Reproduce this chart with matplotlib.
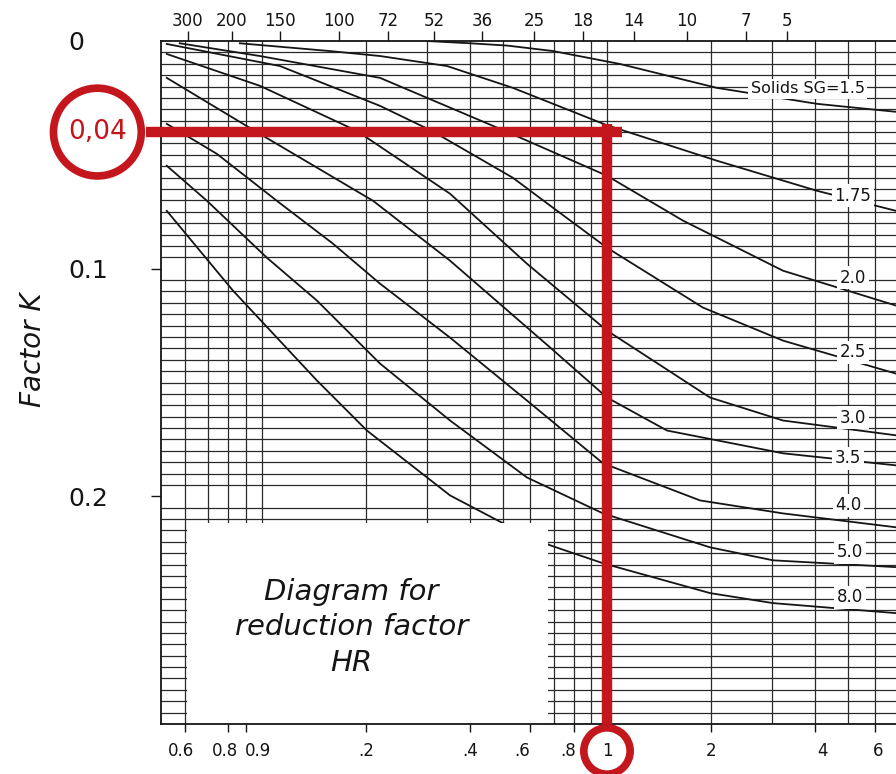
import numpy as np
import matplotlib
matplotlib.use('Agg')
import matplotlib.pyplot as plt
from matplotlib.patches import Rectangle
from matplotlib.ticker import LogLocator, MultipleLocator, NullFormatter, NullLocator

# values: particle size d (mm) -> factor K
sg_names = ['1.5', '1.75', '2.0', '2.5', '3.0', '3.5', '4.0', '5.0', '8.0']

d_15 = [0.30, 0.401, 0.513, 0.697, 1.091, 2.084, 4.062, 6.88]
k_15 = [0.0, 0.001, 0.002, 0.0044, 0.0101, 0.0206, 0.0276, 0.0311]

d_175 = [0.0863, 0.157, 0.220, 0.344, 0.534, 1.0, 2.084, 4.062, 6.88]
k_175 = [0.001, 0.0044, 0.0066, 0.011, 0.0206, 0.037, 0.0526, 0.0658, 0.0746]

d_20 = [0.0578, 0.0987, 0.220, 0.506, 1.0, 1.661, 3.237, 6.88]
k_20 = [0.001, 0.0066, 0.0162, 0.0395, 0.0592, 0.0789, 0.1009, 0.1162]

d_25 = [0.053, 0.1128, 0.220, 0.311, 0.534, 0.697, 1.0, 1.898, 3.237, 6.88]
k_25 = [0.0013, 0.011, 0.0285, 0.0395, 0.0601, 0.0732, 0.0908, 0.1171, 0.1316, 0.1461]

d_30 = [0.053, 0.0987, 0.1885, 0.351, 0.586, 1.0, 1.989, 3.237, 6.88]
k_30 = [0.0057, 0.0197, 0.0395, 0.0671, 0.0978, 0.1272, 0.1566, 0.1667, 0.1732]

d_35 = [0.053, 0.0954, 0.210, 0.351, 0.684, 1.0, 1.493, 3.237, 6.88]
k_35 = [0.0162, 0.0395, 0.0702, 0.0965, 0.1346, 0.1566, 0.1711, 0.1811, 0.1864]

d_40 = [0.053, 0.0741, 0.1105, 0.1606, 0.220, 0.351, 0.586, 0.974, 1.861, 3.237, 6.88]
k_40 = [0.0364, 0.0496, 0.0702, 0.089, 0.1066, 0.1303, 0.1579, 0.1855, 0.2018, 0.2075, 0.2136]

d_50 = [0.053, 0.0693, 0.1034, 0.1443, 0.220, 0.351, 0.586, 0.974, 1.989, 3.028, 6.88]
k_50 = [0.0548, 0.0702, 0.0952, 0.114, 0.1417, 0.1667, 0.1917, 0.2075, 0.2224, 0.2281, 0.2311]

d_80 = [0.053, 0.0824, 0.1443, 0.2015, 0.351, 0.4995, 0.684, 0.974, 1.989, 3.028, 6.88]
k_80 = [0.0746, 0.1096, 0.1491, 0.1711, 0.1996, 0.2118, 0.2215, 0.2294, 0.2425, 0.2469, 0.2513]

curves_d = [d_15, d_175, d_20, d_25, d_30, d_35, d_40, d_50, d_80]
curves_k = [k_15, k_175, k_20, k_25, k_30, k_35, k_40, k_50, k_80]

# curve labels (text, d, K)
label_text = ['Solids SG=1.5', '1.75', '2.0', '2.5', '3.0', '3.5', '4.0', '5.0', '8.0']
label_d = [3.82, 5.16, 5.16, 5.16, 5.16, 5.0, 5.0, 5.06, 5.06]
label_k = [0.021, 0.068, 0.104, 0.1368, 0.1654, 0.1833, 0.204, 0.2246, 0.2443]

# axes ticks; bottom labels sit a little off their ticks in the scan
size_ticks = [0.06, 0.08, 0.09, 0.2, 0.4, 0.6, 0.8, 1, 2, 4, 6]
size_labels = ['0.6', '0.8', '0.9', '.2', '.4', '.6', '.8', '1', '2', '4', '6']
size_label_pos = [0.0584, 0.0781, 0.0974, 0.2, 0.401, 0.567, 0.771, 1.0, 2.0, 4.2, 6.1]
mesh_pos = [0.0610, 0.0818, 0.1128, 0.1672, 0.2318, 0.3151, 0.4343, 0.6143, 0.852, 1.198, 1.706, 2.529, 3.325]
mesh_labels = ['300', '200', '150', '100', '72', '52', '36', '25', '18', '14', '10', '7', '5']
k_ticks = [0, 0.1, 0.2]
k_labels = ['0', '0.1', '0.2']

# worked example: d = 1 mm -> K = 0.04
ex_d = 1.0
ex_k = 0.04

red = '#c3161d'
ink = '#151515'

fig = plt.figure(figsize=(8.96, 7.74), dpi=100)
ax = fig.add_axes([161 / 896, 50 / 774, 735 / 896, 683 / 774])

ax.set_xscale('log')
ax.set_xlim(0.051, 6.88)
ax.set_ylim(0.3, 0.0)

# dense chart-paper grid
ax.xaxis.set_minor_locator(LogLocator(base=10, subs=np.arange(1, 10)))
ax.xaxis.set_minor_formatter(NullFormatter())
ax.yaxis.set_minor_locator(MultipleLocator(0.005))
ax.grid(which='minor', color='#2a2a2a', lw=0.9, zorder=1)
ax.grid(which='major', axis='x', color='#2a2a2a', lw=0.9, zorder=1)
ax.tick_params(which='minor', length=0)
ax.set_axisbelow(True)

for d, k in zip(curves_d, curves_k):
    ax.plot(d, k, color=ink, lw=1.3, zorder=2)

for t, x, y in zip(label_text, label_d, label_k):
    ax.text(x, y, t, fontsize=11.5 if t.startswith('S') else 12, ha='center', va='center',
            color=ink, zorder=3,
            bbox=dict(boxstyle='square,pad=0.15', fc='white', ec='none'))

# white box with the caption
ax.add_patch(Rectangle((0.0606, 0.2118), 0.675 - 0.0606, 0.3 - 0.2118,
                       fc='white', ec='none', zorder=2.3))
ax.text(0.182, 0.2575, 'Diagram for\nreduction factor\nHR', ha='center', va='center',
        fontsize=21, style='italic', linespacing=1.35, color=ink, zorder=4)

# bottom axis: particle size
ax.set_xticks(size_ticks)
ax.set_xticklabels([''] * len(size_ticks))
ax.tick_params(axis='x', which='major', length=6, width=1, colors=ink, direction='out')
xt = ax.get_xaxis_transform()
for t, x in zip(size_labels, size_label_pos):
    kw = {}
    if t == '1':
        kw['bbox'] = dict(boxstyle='circle,pad=0.85', fc='white', ec=red, lw=5.5)
    ax.text(x, -27 / 683, t, transform=xt, ha='center', va='center', fontsize=12,
            color=ink, clip_on=False, zorder=7, **kw)

# left axis: factor K
ax.set_yticks(k_ticks)
ax.set_yticklabels(k_labels)
ax.tick_params(axis='y', which='major', length=7, width=1, pad=60, labelsize=18,
               colors=ink, direction='out')
for lbl in ax.get_yticklabels():
    lbl.set_ha('left')
ax.yaxis.get_major_ticks()[0].tick1line.set_visible(False)

for s in ['left', 'top', 'bottom']:
    ax.spines[s].set_linewidth(1.3)
    ax.spines[s].set_color(ink)
ax.spines['right'].set_visible(False)

# top axis: mesh sizes
ax2 = ax.twiny()
ax2.set_xscale('log')
ax2.set_xlim(ax.get_xlim())
ax2.set_xticks(mesh_pos)
ax2.set_xticklabels(mesh_labels)
ax2.xaxis.set_minor_locator(NullLocator())
ax2.tick_params(axis='x', length=7, width=1, pad=1, labelsize=12, colors=ink)
for s in ax2.spines.values():
    s.set_visible(False)

# red worked example
ax.plot([0.0462, 1.105], [ex_k, ex_k], color=red, lw=7.5, solid_capstyle='butt',
        clip_on=False, zorder=6)
ax.plot([ex_d, ex_d], [0.0365, 0.3], color=red, lw=7.5, solid_capstyle='butt',
        clip_on=False, zorder=6)
ax.text(-93 / 735, ex_k, '0,04', transform=ax.get_yaxis_transform(), ha='left', va='center',
        fontsize=19, color=red, zorder=7, clip_on=False,
        bbox=dict(boxstyle='circle,pad=0.55', fc='white', ec=red, lw=5.5))

fig.text(33 / 896, 1 - 350 / 774, 'Factor K', rotation=90, ha='center', va='center',
         fontsize=20, style='italic', color=ink)

fig.savefig('out.png', dpi=100, facecolor='white')
